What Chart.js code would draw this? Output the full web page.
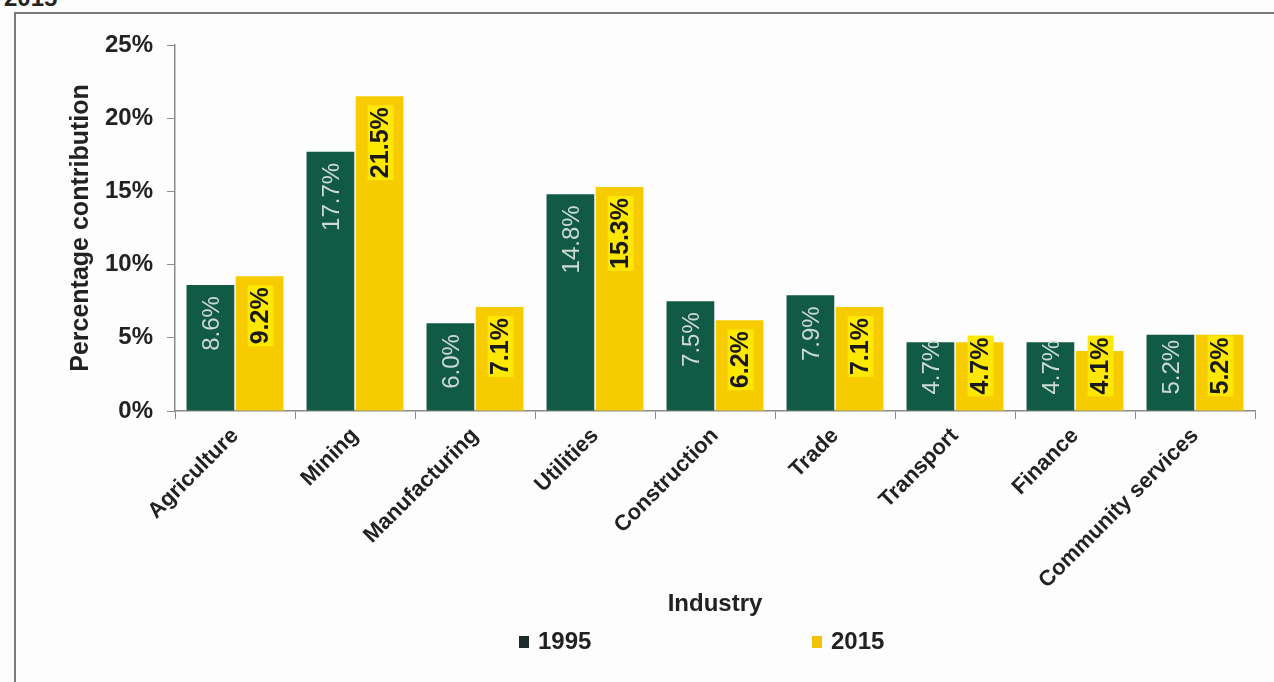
<!DOCTYPE html>
<html><head><meta charset="utf-8">
<script src="https://cdn.jsdelivr.net/npm/chart.js@4.4.1/dist/chart.umd.min.js"></script>
<style>
html,body{margin:0;padding:0;background:#fff;overflow:hidden;}
#wrap{position:relative;width:1274px;height:682px;background:#fdfdfd;}
#frame{position:absolute;left:14px;top:12px;width:1280px;height:700px;border:2px solid #7a7a7a;box-sizing:border-box;}
#cut{position:absolute;left:4px;top:-16px;font:bold 24px "Liberation Sans",Arial,sans-serif;color:#222;}
canvas{position:absolute;left:0;top:0;}
</style></head><body>
<div id="wrap">
<div id="cut">2015</div>
<div id="frame"></div>
<canvas id="c" width="1274" height="682"></canvas>
</div>
<script>
const categories = ["Agriculture","Mining","Manufacturing","Utilities","Construction","Trade","Transport","Finance","Community services"];
const values1995 = [8.6, 17.7, 6.0, 14.8, 7.5, 7.9, 4.7, 4.7, 5.2];
const values2015 = [9.2, 21.5, 7.1, 15.3, 6.2, 7.1, 4.7, 4.1, 5.2];
const seriesLabels = ["1995","2015"];
const yTicks = [0,5,10,15,20,25];

const FONT = '"Liberation Sans", Arial, sans-serif';

const labelPlugin = {
  id:'barLabels',
  afterDatasetsDraw(chart){
    const ctx = chart.ctx;
    chart.data.datasets.forEach((ds, di) => {
      const meta = chart.getDatasetMeta(di);
      meta.data.forEach((bar, i) => {
        const txt = ds.data[i].toFixed(1) + '%';
        ctx.save();
        ctx.font = di === 0 ? '24px ' + FONT : 'bold 25px ' + FONT;
        const w = ctx.measureText(txt).width;
        let start = bar.y + 11;
        if (start + w > bar.base - 16) start = bar.base - 16 - w;
        const cy = start + w / 2;
        ctx.translate(bar.x + 1, cy);
        ctx.rotate(-Math.PI / 2);
        ctx.textAlign = 'center';
        ctx.textBaseline = 'middle';
        if (di === 1) {
          ctx.fillStyle = '#ffe800';
          ctx.fillRect(-w/2 - 2, -13, w + 4, 26);
          ctx.fillStyle = '#1a1a1a';
        } else {
          ctx.fillStyle = '#cbd9d3';
        }
        ctx.fillText(txt, 0, 1);
        ctx.restore();
      });
    });
  }
};

const legendPlugin = {
  id:'customLegend',
  afterDraw(chart){
    const ctx = chart.ctx;
    const pos = [{x:519, c:'#1f2b2b'}, {x:812, c:'#f2c400'}];
    ctx.save();
    chart.data.datasets.forEach((ds, di) => {
      const p = pos[di];
      ctx.fillStyle = p.c;
      ctx.fillRect(p.x, 636, 10, 12);
      ctx.fillStyle = '#222';
      ctx.font = 'bold 24px ' + FONT;
      ctx.textBaseline = 'middle';
      ctx.textAlign = 'left';
      ctx.fillText(ds.label, p.x + 19, 642);
    });
    ctx.restore();
  }
};

new Chart(document.getElementById('c'), {
  type:'bar',
  data:{
    labels: categories,
    datasets:[
      {label: seriesLabels[0], data: values1995, backgroundColor:'#115a46', borderWidth:0},
      {label: seriesLabels[1], data: values2015, backgroundColor:'#f6cb00', borderWidth:0}
    ]
  },
  options:{
    responsive:false,
    animation:false,
    devicePixelRatio:1,
    layout:{padding:{left:58, right:19, top:45, bottom:60}},
    plugins:{legend:{display:false}, tooltip:{enabled:false}},
    datasets:{bar:{categoryPercentage:0.82, barPercentage:0.97}},
    scales:{
      x:{
        grid:{drawOnChartArea:false, drawTicks:true, tickLength:8, color:'#8a8a8a', offset:true},
        border:{color:'#8a8a8a', width:1.5},
        ticks:{font:{size:22, weight:'bold', family:FONT}, color:'#222', maxRotation:45, minRotation:45, padding:4},
        title:{display:true, text:'Industry', font:{size:24, weight:'bold', family:FONT}, color:'#222', padding:{top:0,bottom:3}},
        afterFit(s){ s.height = 211; }
      },
      y:{
        min:0, max:25,
        afterBuildTicks(s){ s.ticks = yTicks.map(v => ({value:v})); },
        grid:{drawOnChartArea:false, drawTicks:true, tickLength:8, color:'#8a8a8a'},
        border:{color:'#8a8a8a', width:1.5},
        ticks:{font:{size:24, weight:'bold', family:FONT}, color:'#222', padding:14, callback:v => v + '%'},
        title:{display:true, text:'Percentage contribution', font:{size:25, weight:'bold', family:FONT}, color:'#222', padding:{top:8,bottom:0}},
        afterFit(s){ s.width = 117; }
      }
    }
  },
  plugins:[labelPlugin, legendPlugin]
});
</script>
</body></html>
